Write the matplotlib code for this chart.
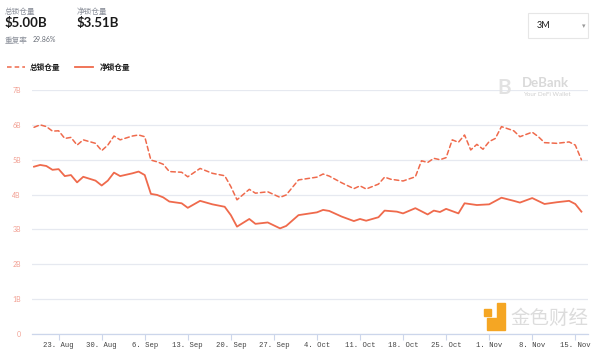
import pandas as pd
import numpy as np
from matplotlib import pyplot as plt
from matplotlib.patches import Rectangle, Polygon

plt.rcParams['font.family'] = ['Lato', 'Noto Sans CJK SC', 'DejaVu Sans']

# data: days counted from 23 Aug 2021, values in billions USD
start = pd.Timestamp('2021-08-23')

total_days = [-4, -3, -2, -1, 0, 1, 2, 3, 4, 6, 7, 8, 9, 10, 12, 13, 14, 15, 16, 17,
              18, 20, 21, 23, 25, 27, 28, 29, 31, 32, 34, 36, 37, 39, 42, 43, 44, 46,
              48, 49, 50, 52, 53, 54, 56, 58, 59, 60, 61, 62, 63, 64, 65, 66, 67, 68,
              69, 70, 71, 72, 74, 75, 77, 78, 79, 81, 83, 84, 85]
total_vals = [5.93, 6.00, 5.95, 5.82, 5.83, 5.61, 5.64, 5.42, 5.57, 5.47, 5.26, 5.42,
              5.68, 5.57, 5.68, 5.71, 5.66, 4.99, 4.94, 4.87, 4.66, 4.64, 4.51, 4.75,
              4.61, 4.54, 4.23, 3.85, 4.15, 4.04, 4.08, 3.92, 3.99, 4.42, 4.50, 4.59,
              4.53, 4.34, 4.17, 4.25, 4.16, 4.30, 4.50, 4.44, 4.39, 4.51, 4.97, 4.92,
              5.04, 5.00, 5.06, 5.57, 5.50, 5.71, 5.28, 5.44, 5.30, 5.52, 5.61, 5.95,
              5.83, 5.66, 5.79, 5.66, 5.49, 5.47, 5.51, 5.42, 5.00]

net_days = [-4, -3, -2, -1, 0, 1, 2, 3, 4, 6, 7, 8, 9, 10, 12, 13, 14, 15, 16, 17,
            18, 20, 21, 23, 25, 27, 28, 29, 31, 32, 34, 36, 37, 39, 42, 43, 44, 46,
            48, 49, 50, 52, 53, 55, 56, 58, 60, 61, 62, 63, 65, 66, 68, 70, 72, 74,
            75, 77, 79, 81, 83, 84, 85]
net_vals = [4.80, 4.85, 4.82, 4.71, 4.73, 4.53, 4.56, 4.35, 4.51, 4.40, 4.26, 4.40,
            4.63, 4.53, 4.61, 4.66, 4.56, 4.02, 3.99, 3.92, 3.80, 3.75, 3.62, 3.82,
            3.72, 3.65, 3.41, 3.08, 3.30, 3.16, 3.20, 3.03, 3.10, 3.41, 3.49, 3.56,
            3.53, 3.37, 3.24, 3.30, 3.25, 3.35, 3.54, 3.51, 3.46, 3.61, 3.43, 3.54,
            3.50, 3.59, 3.46, 3.75, 3.70, 3.72, 3.91, 3.82, 3.77, 3.90, 3.73, 3.78,
            3.82, 3.73, 3.51]

y_ticks = [0, 1, 2, 3, 4, 5, 6, 7]
y_labels = ['0', '1B', '2B', '3B', '4B', '5B', '6B', '7B']

total_dates = start + pd.to_timedelta(total_days, unit='D')
net_dates = start + pd.to_timedelta(net_days, unit='D')
tick_dates = pd.date_range('2021-08-23', '2021-11-15', freq='7D')

color = '#ef6a4c'
W, H = 600, 354

fig = plt.figure(figsize=(6, 3.54), dpi=100)
ax = fig.add_axes([32 / W, 20 / H, 556 / W, 244 / H])

ax.plot(total_dates, total_vals, color=color, lw=1.1, dashes=(3, 2),
        dash_joinstyle='round', dash_capstyle='round')
ax.plot(net_dates, net_vals, color=color, lw=1.3, solid_joinstyle='round')

ax.set_ylim(0, 7)
ax.set_xlim(start - pd.Timedelta(days=4.33), start + pd.Timedelta(days=86.07))
ax.set_yticks(y_ticks)
ax.set_yticklabels(y_labels, color='#f2a093', fontsize=5)
ax.set_xticks(tick_dates)
ax.set_xticklabels([f'{d.day}. {d.strftime("%b")}' for d in tick_dates],
                   fontsize=5.2, color='#444444', family='Liberation Mono')
ax.tick_params(axis='y', length=0, pad=8)
ax.tick_params(axis='x', length=4, color='#ccd6eb', pad=1.5)
ax.grid(axis='y', color='#e6e9f0', lw=0.9)
for s in ['top', 'right', 'left']:
    ax.spines[s].set_visible(False)
ax.spines['bottom'].set_color('#ccd6eb')
ax.spines['bottom'].set_linewidth(0.9)
ax.set_axisbelow(True)


def px(x, y):
    return x / W, 1 - y / H


# header
fig.text(*px(5, 11), '总锁仓量', fontsize=5.5, color='#8a8f99', va='center')
fig.text(*px(5, 23), '$5.00B', fontsize=9.5, color='#1a1a1a', va='center', weight='bold')
fig.text(*px(77, 11), '净锁仓量', fontsize=5.5, color='#8a8f99', va='center')
fig.text(*px(77, 23), '$3.51B', fontsize=9.5, color='#1a1a1a', va='center', weight='bold')
fig.text(*px(5, 40), '重复率', fontsize=5.5, color='#8a8f99', va='center')
fig.text(*px(33, 40), '29.86%', fontsize=5, color='#6a6f79', va='center')

# legend
fig.add_artist(plt.Line2D([7 / W, 25 / W], [1 - 67 / H] * 2, color=color, lw=1.1, dashes=(3, 2)))
fig.text(*px(30, 67), '总锁仓量', fontsize=5.5, color='#1a1a1a', va='center', weight='bold')
fig.add_artist(plt.Line2D([75 / W, 93 / W], [1 - 67 / H] * 2, color=color, lw=1.3))
fig.text(*px(100, 67), '净锁仓量', fontsize=5.5, color='#1a1a1a', va='center', weight='bold')

# range selector
fig.add_artist(Rectangle(px(528, 38), 60 / W, 25 / H, transform=fig.transFigure,
                         facecolor='white', edgecolor='#e6e6e6', lw=0.8))
fig.text(*px(537, 26), '3M', fontsize=6.5, color='#1a1a1a', va='center')
fig.text(*px(582, 26), '▾', fontsize=5, color='#999999', va='center', family='DejaVu Sans')

# watermarks
fig.text(*px(497, 88), 'B', fontsize=15, color='#e2e2e2', va='center', weight='bold')
fig.text(*px(522, 83), 'DeBank', fontsize=9.5, color='#d9d9d9', va='center', weight='bold')
fig.text(*px(523, 95), 'Your DeFi Wallet', fontsize=4.5, color='#d0d0d0', va='center')
fig.add_artist(Polygon([px(487, 318), px(497, 318), px(497, 303), px(505, 303),
                        px(505, 330), px(487, 330)], closed=True,
                       transform=fig.transFigure, color='#f5a623'))
fig.add_artist(Rectangle(px(484, 316), 7 / W, 7 / H, transform=fig.transFigure, color='#f5a623'))
fig.text(*px(510, 318), '金色财经', fontsize=14, color='#dcdcdc', va='center')

fig.savefig('out.png', dpi=100)
